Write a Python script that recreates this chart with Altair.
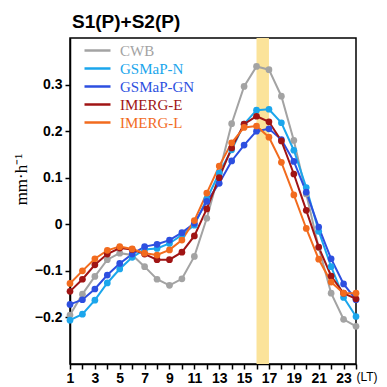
import altair as alt
import pandas as pd

hours = list(range(1, 25))
series = ["CWB", "GSMaP-N", "GSMaP-GN", "IMERG-E", "IMERG-L"]
colors = ["#a3a3a3", "#1ba6ec", "#2d4fe0", "#a01414", "#f26b1e"]

cwb = [-0.195, -0.150, -0.112, -0.076, -0.062, -0.066, -0.091, -0.118, -0.131, -0.117, -0.069, 0.013,
       0.110, 0.216, 0.296, 0.339, 0.332, 0.275, 0.180, 0.065, -0.050, -0.148, -0.204, -0.219]
gsmap_n = [-0.206, -0.193, -0.163, -0.126, -0.096, -0.071, -0.054, -0.052, -0.041, -0.023, -0.002, 0.054,
           0.110, 0.160, 0.215, 0.245, 0.247, 0.218, 0.159, 0.079, -0.015, -0.091, -0.157, -0.198]
gsmap_gn = [-0.172, -0.162, -0.139, -0.109, -0.084, -0.064, -0.048, -0.043, -0.034, -0.018, 0.002, 0.049,
            0.088, 0.136, 0.170, 0.200, 0.205, 0.182, 0.135, 0.069, -0.006, -0.074, -0.128, -0.162]
imerg_e = [-0.144, -0.118, -0.087, -0.064, -0.051, -0.054, -0.064, -0.076, -0.076, -0.060, -0.025, 0.033,
           0.100, 0.164, 0.215, 0.232, 0.220, 0.179, 0.108, 0.030, -0.049, -0.111, -0.148, -0.160]
imerg_l = [-0.127, -0.100, -0.074, -0.056, -0.048, -0.053, -0.062, -0.066, -0.055, -0.034, 0.008, 0.067,
           0.125, 0.175, 0.208, 0.211, 0.187, 0.133, 0.063, -0.009, -0.075, -0.124, -0.148, -0.148]

band_start = [16]
band_end = [17]
y_ticks = [-0.2, -0.1, 0, 0.1, 0.2, 0.3]

rows = []
for name, vals in zip(series, [cwb, gsmap_n, gsmap_gn, imerg_e, imerg_l]):
    for h, v in zip(hours, vals):
        rows.append({"hour": h, "value": v, "series": name, "order": series.index(name)})
df = pd.DataFrame(rows)
band_df = pd.DataFrame({"start": band_start, "end": band_end})

xscale = alt.Scale(domain=[1, 24], nice=False, zero=False)
yscale = alt.Scale(domain=[-0.3, 0.4], nice=False, zero=False)

x_axis = alt.Axis(
    values=hours,
    title=None,
    labelExpr="datum.value == 24 ? '(LT)' : (datum.value % 2 == 1 ? datum.label : '')",
    labelFont="Liberation Sans",
    labelFontSize={"condition": {"test": "datum.value == 24", "value": 12}, "value": 14},
    labelFontWeight={"condition": {"test": "datum.value == 24", "value": "normal"}, "value": "bold"},
    labelAlign={"condition": {"test": "datum.value == 24", "value": "left"}, "value": "center"},
    labelColor="black",
    labelPadding=2,
    labelOverlap=False,
    labelBound=False,
    labelFlush=False,
    tickColor="black",
    tickSize=5,
    tickWidth=1.5,
    domainColor="black",
    domainWidth=1.5,
    grid=False,
)

band = alt.Chart(band_df).mark_rect(color="#fbe39a").encode(
    x=alt.X("start:Q", scale=xscale, axis=x_axis),
    x2="end:Q",
)

lines = alt.Chart(df).mark_line(
    strokeWidth=2,
    point=alt.OverlayMarkDef(filled=True, size=45, opacity=1),
).encode(
    x=alt.X("hour:Q", scale=xscale, axis=x_axis),
    y=alt.Y(
        "value:Q",
        scale=yscale,
        axis=alt.Axis(
            values=y_ticks,
            format=".1~f",
            title="mm·h⁻¹",
            titleFont="Liberation Serif",
            titleFontSize=17,
            titleFontWeight="normal",
            titleColor="black",
            titleAngle=270,
            titleBaseline="alphabetic",
            titleX=-44,
            titleY=141,
            labelFont="Liberation Sans",
            labelFontSize=14,
            labelFontWeight="bold",
            labelColor="black",
            labelPadding=3,
            tickColor="black",
            tickSize=5,
            tickWidth=1.5,
            domainColor="black",
            domainWidth=1.5,
            grid=False,
        ),
    ),
    color=alt.Color(
        "series:N",
        scale=alt.Scale(domain=series, range=colors),
        legend=alt.Legend(
            title=None,
            orient="none",
            legendX=20,
            legendY=5,
            padding=0,
            symbolType="M-2.6,0H2.6",
            symbolSize=100,
            symbolStrokeWidth=2.5,
            symbolFillColor="transparent",
            labelFont="Liberation Serif",
            labelFontSize=15,
            labelOffset=15,
            labelColor={"expr": "scale('color', datum.value)"},
            rowPadding=2,
        ),
    ),
    order=alt.Order("order:Q"),
    detail="series:N",
)

chart = alt.layer(band, lines).properties(
    width=286,
    height=326,
    title=alt.TitleParams(
        "S1(P)+S2(P)",
        anchor="start",
        frame="group",
        font="Liberation Sans",
        fontSize=19,
        fontWeight="bold",
        color="black",
        offset=6,
        dx=2,
    ),
    autosize=alt.AutoSizeParams(type="none"),
    padding={"left": 62, "top": 30, "right": 23, "bottom": 23},
).configure_view(
    stroke="black", strokeWidth=1.5
)

chart.save("out.html", embed_options={"renderer": "svg", "actions": False})
